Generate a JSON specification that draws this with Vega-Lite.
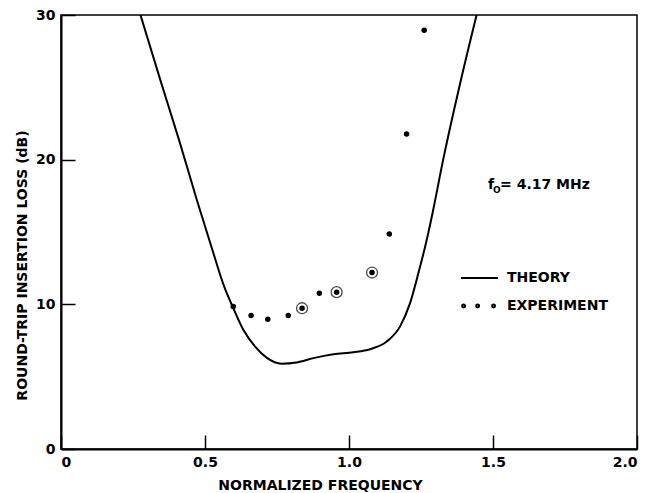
{
  "$schema": "https://vega.github.io/schema/vega-lite/v6.json",
  "width": 576,
  "height": 434,
  "autosize": {"type": "none"},
  "padding": {"left": 61, "top": 15, "right": 20, "bottom": 44},
  "background": "white",
  "config": {
    "view": {"stroke": "black", "strokeWidth": 1.5},
    "axis": {
      "grid": false,
      "domainColor": "black",
      "domainWidth": 2,
      "tickColor": "black",
      "tickWidth": 1.5,
      "tickSize": -14,
      "labelFont": "DejaVu Sans",
      "labelFontWeight": "bold",
      "labelFontSize": 14,
      "labelColor": "black",
      "titleFont": "DejaVu Sans",
      "titleFontWeight": "bold",
      "titleFontSize": 14,
      "titleColor": "black"
    }
  },
  "datasets": {
    "theory": [
      {"f": 0.276, "loss": 30},
      {"f": 0.345, "loss": 25.5},
      {"f": 0.410, "loss": 21.35},
      {"f": 0.472, "loss": 17.2},
      {"f": 0.522, "loss": 14.0},
      {"f": 0.567, "loss": 11.2},
      {"f": 0.598, "loss": 9.75},
      {"f": 0.633, "loss": 8.24},
      {"f": 0.674, "loss": 7.08},
      {"f": 0.714, "loss": 6.32},
      {"f": 0.766, "loss": 5.9},
      {"f": 0.818, "loss": 5.98},
      {"f": 0.876, "loss": 6.28},
      {"f": 0.946, "loss": 6.55},
      {"f": 1.015, "loss": 6.69},
      {"f": 1.073, "loss": 6.9},
      {"f": 1.131, "loss": 7.43},
      {"f": 1.177, "loss": 8.46},
      {"f": 1.212, "loss": 10.08},
      {"f": 1.241, "loss": 12.16},
      {"f": 1.270, "loss": 14.46},
      {"f": 1.290, "loss": 16.3},
      {"f": 1.327, "loss": 20.0},
      {"f": 1.385, "loss": 25.2},
      {"f": 1.443, "loss": 30}
    ],
    "experiment": [
      {"f": 0.598, "loss": 9.85, "circled": false},
      {"f": 0.660, "loss": 9.23, "circled": false},
      {"f": 0.718, "loss": 8.97, "circled": false},
      {"f": 0.789, "loss": 9.23, "circled": false},
      {"f": 0.837, "loss": 9.73, "circled": true},
      {"f": 0.897, "loss": 10.77, "circled": false},
      {"f": 0.957, "loss": 10.84, "circled": true},
      {"f": 1.080, "loss": 12.2, "circled": true},
      {"f": 1.140, "loss": 14.86, "circled": false},
      {"f": 1.200, "loss": 21.78, "circled": false},
      {"f": 1.261, "loss": 28.95, "circled": false}
    ],
    "series": [
      {"series": "THEORY"},
      {"series": "EXPERIMENT"}
    ],
    "note": [
      {"f": 1.483, "loss": 18.27}
    ]
  },
  "layer": [
    {
      "data": {"name": "theory"},
      "mark": {"type": "line", "color": "black", "strokeWidth": 2, "interpolate": "monotone", "clip": true},
      "encoding": {
        "x": {
          "field": "f", "type": "quantitative",
          "scale": {"domain": [0, 2], "nice": false},
          "axis": {
            "title": "NORMALIZED FREQUENCY",
            "values": [0, 0.5, 1, 1.5, 2],
            "labelExpr": "datum.value == 0 ? '0' : format(datum.value, '.1f')",
            "labelPadding": 20,
            "titleX": 259,
            "titleY": 36,
            "titleBaseline": "middle"
          }
        },
        "y": {
          "field": "loss", "type": "quantitative",
          "scale": {"domain": [0, 30], "nice": false},
          "axis": {
            "title": "ROUND-TRIP INSERTION LOSS (dB)",
            "values": [0, 10, 20, 30],
            "format": "d",
            "labelPadding": 20,
            "titleX": -39,
            "titleY": 250,
            "titleBaseline": "middle"
          }
        }
      }
    },
    {
      "data": {"name": "experiment"},
      "transform": [{"filter": "datum.circled"}],
      "mark": {"type": "point", "filled": false, "color": "black", "strokeWidth": 1.3, "size": 120},
      "encoding": {
        "x": {"field": "f", "type": "quantitative"},
        "y": {"field": "loss", "type": "quantitative"}
      }
    },
    {
      "data": {"name": "experiment"},
      "mark": {"type": "circle", "color": "black", "opacity": 1, "size": 30},
      "encoding": {
        "x": {"field": "f", "type": "quantitative"},
        "y": {"field": "loss", "type": "quantitative"}
      }
    },
    {
      "data": {"name": "series"},
      "mark": {"type": "point", "filled": false, "color": "black", "strokeWidth": 2, "opacity": 0},
      "encoding": {
        "shape": {
          "field": "series", "type": "nominal",
          "scale": {
            "domain": ["THEORY", "EXPERIMENT"],
            "range": [
              "M-1,0L1,0",
              "M-0.94,0a0.08,0.08 0 1,0 0.16,0a0.08,0.08 0 1,0 -0.16,0M-0.18,0a0.08,0.08 0 1,0 0.16,0a0.08,0.08 0 1,0 -0.16,0M0.68,0a0.08,0.08 0 1,0 0.16,0a0.08,0.08 0 1,0 -0.16,0"
            ]
          },
          "legend": {
            "title": null,
            "orient": "none",
            "legendX": 399,
            "legendY": 250,
            "padding": 0,
            "symbolSize": 1369,
            "symbolOpacity": 1,
            "symbolStrokeColor": "black",
            "symbolStrokeWidth": 2,
            "clipHeight": 26,
            "rowPadding": 2,
            "labelOffset": 8,
            "labelFont": "DejaVu Sans",
            "labelFontWeight": "bold",
            "labelFontSize": 14,
            "labelColor": "black"
          }
        }
      }
    },
    {
      "data": {"name": "note"},
      "layer": [
        {"mark": {"type": "text", "text": "f", "align": "left", "baseline": "middle", "font": "DejaVu Sans", "fontWeight": "bold", "fontSize": 14, "color": "black"}},
        {"mark": {"type": "text", "text": "O", "align": "left", "baseline": "middle", "font": "DejaVu Sans", "fontWeight": "bold", "fontSize": 9, "dx": 5, "dy": 5, "color": "black"}},
        {"mark": {"type": "text", "text": "= 4.17 MHz", "align": "left", "baseline": "middle", "font": "DejaVu Sans", "fontWeight": "bold", "fontSize": 14, "dx": 12, "color": "black"}}
      ],
      "encoding": {
        "x": {"field": "f", "type": "quantitative"},
        "y": {"field": "loss", "type": "quantitative"}
      }
    }
  ]
}
